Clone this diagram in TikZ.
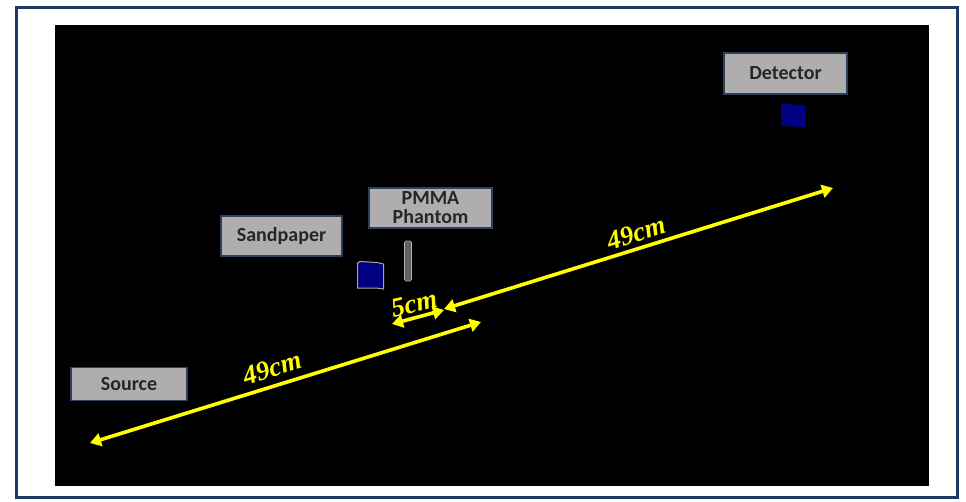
\documentclass[tikz,border=0pt]{standalone}
\usepackage{fontspec}
\setmainfont{Liberation Serif}
\setsansfont{Carlito}
\usetikzlibrary{arrows.meta}
\definecolor{framecol}{HTML}{1F3864}
\definecolor{labelfill}{HTML}{B0ADAD}
\definecolor{labeledge}{HTML}{2E3E5E}
\definecolor{navy}{HTML}{000080}
\definecolor{dimyellow}{HTML}{FFFF00}
\tikzset{
  tag/.style={draw=labeledge, line width=1.2pt, fill=labelfill, inner sep=0pt,
    font=\sffamily\bfseries\fontsize{20}{19}\selectfont, text=black!85, align=center},
  dimline/.style={draw=dimyellow, line width=3.6pt,
    {Triangle[length=11pt,width=13pt]}-{Triangle[length=11pt,width=13pt]}},
  dimlabel/.style={text=dimyellow, font=\bfseries\itshape\fontsize{27}{28}\selectfont, inner sep=0pt}
}
\begin{document}
\begin{tikzpicture}[x=1pt,y=-1pt]
  \useasboundingbox (0,0) rectangle (966,501);
  % page and frame
  \fill[white] (0,0) rectangle (966,501);
  \draw[framecol, line width=3pt] (16,7) rectangle (957,497);
  \fill[black] (55,25) rectangle (929,486);

  % labels
  \node[tag, minimum width=123pt, minimum height=41pt] (detector) at (785.5,73.5) {Detector};
  \node[tag, minimum width=123pt, minimum height=40pt] (pmma) at (430.5,208) {PMMA\\Phantom};
  \node[tag, minimum width=121pt, minimum height=40pt] (sandpaper) at (281.5,236) {Sandpaper};
  \node[tag, minimum width=116pt, minimum height=33pt] (source) at (129,384) {Source};

  % detector element
  \fill[navy] (781,103) -- (787,104) -- (805,105) -- (805,127) -- (781,126) -- cycle;
  % sandpaper sheet
  \filldraw[fill=navy, draw=gray!70, line width=1pt]
    (357.5,263) -- (360,261.5) -- (377,262.5) -- (383.5,264) -- (383.5,289) -- (376,288) -- (357.5,288) -- cycle;
  % PMMA phantom rod
  \filldraw[fill=gray!75!black, draw=gray!60, line width=0.6pt, rounded corners=1.5pt]
    (404.5,241) rectangle (411.5,281);

  % dimension lines
  \coordinate (srcend) at (90,443);
  \coordinate (midend) at (481,322);
  \coordinate (fivea) at (392,324);
  \coordinate (fiveb) at (444,310);
  \coordinate (phend) at (444,309);
  \coordinate (detend) at (833,188);
  \draw[dimline] (srcend) -- (midend);
  \draw[dimline] (phend) -- (detend);
  \draw[dimline] (fivea) -- (fiveb);

  \node[dimlabel, rotate=17] (lowlab) at (272,368) {49cm};
  \node[dimlabel, rotate=17] (uplab) at (636,233) {49cm};
  \node[dimlabel, rotate=13] (fivelab) at (414,304) {5cm};
\end{tikzpicture}
\end{document}
